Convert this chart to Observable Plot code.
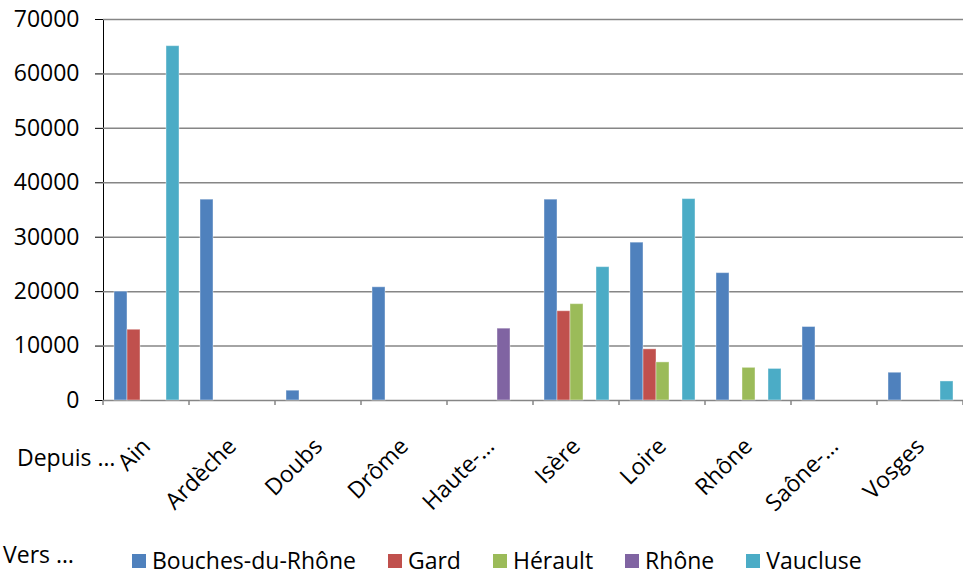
<!DOCTYPE html>
<html><head><meta charset="utf-8">
<script src="https://cdn.jsdelivr.net/npm/d3@7"></script>
<script src="https://cdn.jsdelivr.net/npm/@observablehq/plot@0.6"></script>
<style>
body{margin:0;background:#fff;font-family:"Open Sans",sans-serif;color:#000;}
#wrap{position:relative;width:963px;height:577px;overflow:hidden;background:#fff;}
#chart svg{display:block;}
#legend{position:absolute;left:0;top:540px;width:963px;height:37px;font-size:23px;}
#vers{position:absolute;left:3px;top:-1px;line-height:30px;white-space:nowrap;}
#items{position:absolute;left:132px;top:5px;display:flex;gap:32px;line-height:30px;white-space:nowrap;}
.item{display:flex;align-items:center;gap:6px;}
.sw{width:14px;height:14px;display:inline-block;position:relative;top:1px;}
</style></head><body>
<div id="wrap"><div id="chart"></div><div id="legend"><span id="vers">Vers …</span><div id="items"></div></div></div>
<script>
const categories = ["Ain","Ardèche","Doubs","Drôme","Haute-…","Isère","Loire","Rhône","Saône-…","Vosges"];
const series = ["Bouches-du-Rhône","Gard","Hérault","Rhône","Vaucluse"];
const colors = ["#4F81BD","#C0504D","#9BBB59","#8064A2","#4BACC6"];
const bouchesDuRhone = [20000,36900,1800,20800,0,36900,29000,23400,13500,5100];
const gard = [13000,0,0,0,0,16400,9400,0,0,0];
const herault = [0,0,0,0,0,17700,7000,6000,0,0];
const rhone = [0,0,0,0,13200,0,0,0,0,0];
const vaucluse = [65100,0,0,0,0,24500,37000,5800,0,3500];
const yTicks = [0,10000,20000,30000,40000,50000,60000,70000];
const xLabel = "Depuis …";

const valuesBySeries = [bouchesDuRhone, gard, herault, rhone, vaucluse];
const data = [];
categories.forEach((c, i) => series.forEach((s, j) => {
  const v = valuesBySeries[j][i];
  if (v > 0) data.push({category: c, series: s, value: v});
}));

const chart = Plot.plot({
  width: 963, height: 540,
  marginLeft: 103, marginRight: -10, marginTop: 19, marginBottom: 140,
  style: {fontFamily: "'Open Sans', sans-serif", fontSize: "23px", color: "#000", background: "#fff", overflow: "hidden"},
  facet: {margin: 0},
  fx: {domain: categories, padding: 0, axis: "bottom", label: null, tickSize: 0, tickPadding: 42, tickRotate: -45},
  x: {domain: series, paddingInner: 0, paddingOuter: 0.76, axis: null},
  y: {domain: [0, 70000], ticks: yTicks, tickFormat: d => String(d), tickSize: 8, tickPadding: 16, label: null, line: true},
  color: {domain: series, range: colors},
  marks: [
    Plot.ruleY(yTicks, {stroke: "#868686", strokeWidth: 1.5}),
    Plot.barY(data, {fx: "category", x: "series", y: "value", fill: "series", stroke: "#fff", strokeOpacity: 0.4, strokeWidth: 1})
  ]
});
document.getElementById("chart").appendChild(chart);

// category tick marks at band boundaries, from the fx scale
const fxs = chart.scale("fx");
const ys = chart.scale("y");
const band = d3.scaleBand().domain(fxs.domain).range(fxs.range).padding(0);
const bounds = categories.map(c => band(c)).concat([band(categories[categories.length - 1]) + band.bandwidth()]);
const y0 = ys.apply ? ys.apply(0) : 400;
const svg = d3.select(chart);
svg.append("g").attr("stroke", "#868686").attr("stroke-width", 1.5)
  .selectAll("line").data(bounds).join("line")
  .attr("x1", d => d).attr("x2", d => d).attr("y1", y0).attr("y2", y0 + 5);
svg.append("text").attr("x", 17).attr("y", 466).attr("text-anchor", "start").attr("fill", "#000").text(xLabel);

const items = d3.select("#items");
series.forEach((s, i) => {
  const it = items.append("span").attr("class", "item");
  it.append("span").attr("class", "sw").style("background", colors[i]);
  it.append("span").text(s);
});
</script>
</body></html>
